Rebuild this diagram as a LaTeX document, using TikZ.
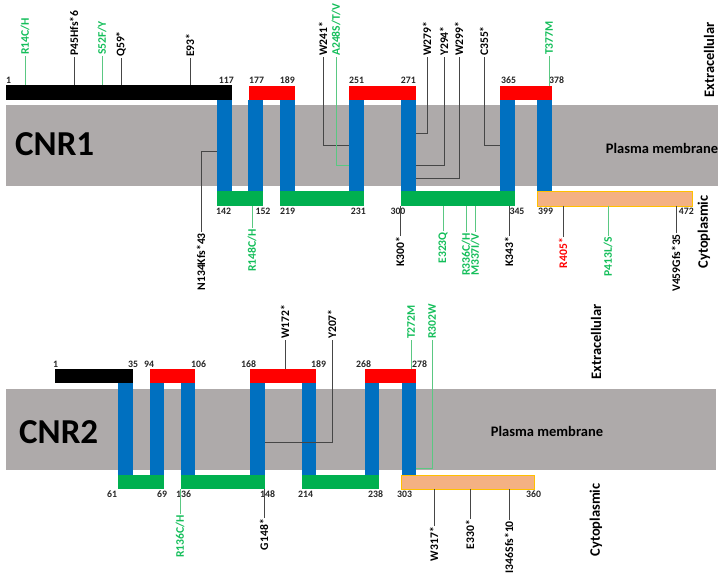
\documentclass[tikz,border=0pt]{standalone}
\usepackage{fontspec}
\setmainfont{Carlito}
\definecolor{memgray}{HTML}{AEAAAA}
\definecolor{tmblue}{HTML}{0070C0}
\definecolor{elred}{HTML}{FF0000}
\definecolor{ilgreen}{HTML}{00B050}
\definecolor{ctorange}{HTML}{F4B183}
\definecolor{ctborder}{HTML}{FFC000}
\definecolor{mgreen}{RGB}{20,190,90}
\definecolor{lgreen}{RGB}{90,200,130}
\definecolor{linegray}{RGB}{70,70,70}
\newcommand{\seg}[6]{\node[#6, minimum width={(#4-#2)*1pt}, minimum height={(#5-#3)*1pt}] (#1) at (#2,#3) {};}
\begin{document}
\begin{tikzpicture}[x=1pt,y=-1pt,
  box/.style={inner sep=0pt, outer sep=0pt, anchor=north west, draw=none},
  mem/.style={box, fill=memgray},
  tm/.style={box, fill=tmblue},
  nt/.style={box, fill=black},
  el/.style={box, fill=elred},
  il/.style={box, fill=ilgreen},
  ct/.style={box, fill=ctorange, draw=ctborder, line width=0.8pt},
  num/.style={font=\bfseries\fontsize{9.8}{10}\selectfont, inner sep=0pt, text=black!85},
  mut/.style={font=\bfseries\fontsize{11.6}{12}\selectfont, rotate=90, inner sep=1pt},
  mutg/.style={mut, text=mgreen},
  mutr/.style={mut, text=elred},
  lk/.style={draw=linegray, line width=0.6pt},
  lkg/.style={draw=lgreen, line width=0.6pt},
  side/.style={font=\bfseries\fontsize{14.5}{15}\selectfont, inner sep=0pt},
  big/.style={font=\bfseries\fontsize{35}{38}\selectfont, inner sep=0pt}
]
\useasboundingbox (0,0) rectangle (723,573);

% ================= CNR1 =================
\seg{memA}{6}{105}{718}{186}{mem}
\node[big, anchor=west] (cnr1) at (15,144) {CNR1};
\node[side] (pmA) at (662,148) {Plasma membrane};
\node[side, rotate=90] (exA) at (709,60) {Extracellular};
\node[side, rotate=90] (cyA) at (704,232) {Cytoplasmic};

% connectors inside membrane (drawn below helices)
\node[mut, anchor=west] (mW241) at (323,57) {W241*};
\node[mutg, anchor=west] (mA248) at (336,57) {A248S/T/V};
\node[mut, anchor=west] (mW279) at (427,57) {W279*};
\node[mut, anchor=west] (mY294) at (444,57) {Y294*};
\node[mut, anchor=west] (mW299) at (459,57) {W299*};
\node[mut, anchor=west] (mC355) at (484,57) {C355*};
\node[mut, anchor=east] (mN134) at (201,232) {N134Kfs*43};

\seg{tmA1}{217}{100}{232}{191}{tm}
\seg{tmA2}{248}{100}{263}{191}{tm}
\seg{tmA3}{280}{100}{295}{191}{tm}
\seg{tmA4}{349}{100}{364}{191}{tm}
\seg{tmA5}{401}{100}{416}{191}{tm}
\seg{tmA6}{500}{100}{515}{191}{tm}
\seg{tmA7}{537}{100}{552}{191}{tm}

\draw[lk] (mW241.west) |- (tmA4.west |- 0,145);
\draw[lkg] (mA248.west) |- (tmA4.west |- 0,165);
\draw[lk] (mW279.west) |- (tmA5.east |- 0,133);
\draw[lk] (mY294.west) |- (tmA5.east |- 0,165);
\draw[lk] (mW299.west) |- (tmA5.east |- 0,178);
\draw[lk] (mC355.west) |- (tmA6.west |- 0,145);
\draw[lk] (tmA1.west |- 0,151) -| (mN134.east);

\seg{ntA}{6}{85}{232}{100}{nt}
\seg{elA1}{249}{86}{295}{100}{el}
\seg{elA2}{349}{86}{416}{100}{el}
\seg{elA3}{500}{86}{552}{100}{el}
\seg{ilA1}{217}{191}{263}{206}{il}
\seg{ilA2}{280}{191}{364}{206}{il}
\seg{ilA3}{401}{191}{515}{206}{il}
\seg{ctA}{537}{191}{692}{206}{ct}

% numbers top
\node[num, anchor=base west] (a1) at (6,83) {1};
\node[num, anchor=base east] (a117) at (234,83) {117};
\node[num, anchor=base west] (a177) at (249,83) {177};
\node[num, anchor=base east] (a189) at (295,83) {189};
\node[num, anchor=base west] (a251) at (349,83) {251};
\node[num, anchor=base east] (a271) at (416,83) {271};
\node[num, anchor=base west] (a365) at (501,83) {365};
\node[num, anchor=base west] (a378) at (549,83) {378};
% numbers bottom
\node[num, anchor=base west] (a142) at (216,214) {142};
\node[num, anchor=base] (a152) at (263,214) {152};
\node[num, anchor=base west] (a219) at (280,214) {219};
\node[num, anchor=base east] (a231) at (366,214) {231};
\node[num, anchor=base] (a300) at (398,214) {300};
\node[num, anchor=base] (a345) at (517,214) {345};
\node[num, anchor=base west] (a399) at (538,214) {399};
\node[num, anchor=base east] (a472) at (694,214) {472};

% top mutations on N-terminus
\node[mutg, anchor=west] (mR14) at (25,56) {R14C/H};
\node[mut, anchor=west] (mP45) at (74,57) {P45Hfs*6};
\node[mutg, anchor=west] (mS52) at (102,56) {S52F/Y};
\node[mut, anchor=west] (mQ59) at (121,58) {Q59*};
\node[mut, anchor=west] (mE93) at (190,58) {E93*};
\node[mutg, anchor=west] (mT377) at (549,56) {T377M};
\draw[lkg] (mR14.west) -- (mR14.west |- ntA.north);
\draw[lk] (mP45.west) -- (mP45.west |- ntA.north);
\draw[lkg] (mS52.west) -- (mS52.west |- ntA.north);
\draw[lk] (mQ59.west) -- (mQ59.west |- ntA.north);
\draw[lk] (mE93.west) -- (mE93.west |- ntA.north);
\draw[lkg] (mT377.west) -- (mT377.west |- elA3.north);

% bottom mutations
\node[mutg, anchor=east] (mR148) at (252,228) {R148C/H};
\node[mut, anchor=east] (mK300) at (400,236) {K300*};
\node[mutg, anchor=east] (mE323) at (443,231) {E323Q};
\node[mutg, anchor=east] (mR336) at (466,232) {R336C/H};
\node[mutg, anchor=east] (mM337) at (475,232) {M337I/V};
\node[mut, anchor=east] (mK343) at (509,236) {K343*};
\node[mutr, anchor=east] (mR405) at (563,237) {R405*};
\node[mutg, anchor=east] (mP413) at (608,236) {P413L/S};
\node[mut, anchor=east] (mV459) at (676,233) {V459Gfs*35};
\draw[lkg] (mR148.east) -- (mR148.east |- ilA1.south);
\draw[lk] (mK300.east) -- (mK300.east |- ilA3.south);
\draw[lkg] (mE323.east) -- (mE323.east |- ilA3.south);
\draw[lkg] (mR336.east) -- (mR336.east |- ilA3.south);
\draw[lkg] (mM337.east) -- (mM337.east |- ilA3.south);
\draw[lk] (mK343.east) -- (mK343.east |- ilA3.south);
\draw[lk] (mR405.east) -- (mR405.east |- ctA.south);
\draw[lkg] (mP413.east) -- (mP413.east |- ctA.south);
\draw[lk] (mV459.east) -- (mV459.east |- ctA.south);

% ================= CNR2 =================
\seg{memB}{6}{389}{716}{470}{mem}
\node[big, anchor=west] (cnr2) at (19,432) {CNR2};
\node[side] (pmB) at (547,431) {Plasma membrane};
\node[side, rotate=90] (exB) at (596,342) {Extracellular};
\node[side, rotate=90] (cyB) at (596,520) {Cytoplasmic};

\node[mut, anchor=west] (mY207) at (332,340) {Y207*};
\node[mutg, anchor=west] (mR302) at (432,340) {R302W};

\seg{tmB1}{118}{383}{133}{475}{tm}
\seg{tmB2}{150}{383}{164}{475}{tm}
\seg{tmB3}{181}{383}{195}{475}{tm}
\seg{tmB4}{250}{383}{265}{475}{tm}
\seg{tmB5}{302}{383}{316}{475}{tm}
\seg{tmB6}{365}{383}{379}{475}{tm}
\seg{tmB7}{402}{383}{416}{475}{tm}

\draw[lk] (mY207.west) |- (tmB4.east |- 0,442);
\draw[lkg] (mR302.west) |- (tmB7.east |- 0,468);

\seg{ntB}{55}{369}{133}{383}{nt}
\seg{elB1}{150}{369}{195}{383}{el}
\seg{elB2}{250}{369}{316}{383}{el}
\seg{elB3}{365}{369}{416}{383}{el}
\seg{ilB1}{118}{475}{164}{489}{il}
\seg{ilB2}{181}{475}{265}{489}{il}
\seg{ilB3}{302}{475}{379}{489}{il}
\seg{ctB}{401}{475}{534}{489}{ct}

% numbers top
\node[num, anchor=base west] (b1) at (53,367) {1};
\node[num, anchor=base west] (b35) at (128,367) {35};
\node[num, anchor=base west] (b94) at (144,367) {94};
\node[num, anchor=base west] (b106) at (191,367) {106};
\node[num, anchor=base west] (b168) at (241,367) {168};
\node[num, anchor=base west] (b189) at (311,367) {189};
\node[num, anchor=base west] (b268) at (356,367) {268};
\node[num, anchor=base west] (b278) at (412,367) {278};
% numbers bottom
\node[num, anchor=base west] (b61) at (107,497) {61};
\node[num, anchor=base west] (b69) at (157,497) {69};
\node[num, anchor=base west] (b136) at (176,497) {136};
\node[num, anchor=base west] (b148) at (260,497) {148};
\node[num, anchor=base west] (b214) at (298,497) {214};
\node[num, anchor=base west] (b238) at (368,497) {238};
\node[num, anchor=base west] (b303) at (397,497) {303};
\node[num, anchor=base west] (b360) at (526,497) {360};

% top mutations
\node[mut, anchor=west] (mW172) at (285,340) {W172*};
\node[mutg, anchor=west] (mT272) at (411,340) {T272M};
\draw[lk] (mW172.west) -- (mW172.west |- elB2.north);
\draw[lkg] (mT272.west) -- (mT272.west |- elB3.north);

% bottom mutations
\node[mutg, anchor=east] (mR136) at (180,514) {R136C/H};
\node[mut, anchor=east] (mG148) at (264,518) {G148*};
\node[mut, anchor=east] (mW317) at (434,526) {W317*};
\node[mut, anchor=east] (mE330) at (470,519) {E330*};
\node[mut, anchor=east] (mI346) at (509,520) {I346Sfs*10};
\draw[lkg] (mR136.east) -- (mR136.east |- ilB2.south);
\draw[lk] (mG148.east) -- (mG148.east |- ilB2.south);
\draw[lk] (mW317.east) -- (mW317.east |- ctB.south);
\draw[lk] (mE330.east) -- (mE330.east |- ctB.south);
\draw[lk] (mI346.east) -- (mI346.east |- ctB.south);
\end{tikzpicture}
\end{document}
